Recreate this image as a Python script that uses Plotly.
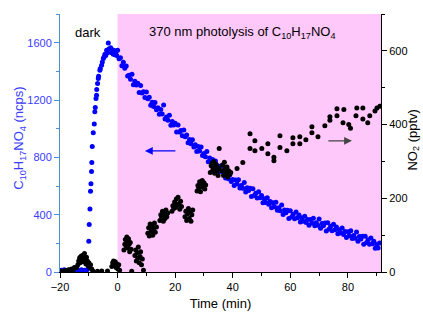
import plotly.graph_objects as go

# ---------------- data ----------------
# C10H17NO4 signal (ncps) vs time (min)
blue_t = [
    -20, -19.5, -19, -18.5, -18, -17.5, -17, -16.5, -16, -15.5, -15, -14.5, -14, -13.5, -13, -12.5, -12, -11.5, -11, -10.5,
    -10.0, -9.85, -9.6, -9.4, -9.25, -9.05, -8.95, -8.8, -8.45, -8.1, -7.9, -7.75, -7.5, -7.3, -7.25, -6.95, -6.7, -6.6,
    -6.15, -6.0, -5.55, -5.3, -4.95, -4.7, -4.4, -4.1, -3.8, -3.5, -3.22, -3.0, -2.7, -2.4, -2.1, -1.8, -1.5, -1.2, -0.9, -0.6, -0.3,
    0, 0.5, 1, 1.5, 2, 2.5, 3, 3.5, 4, 4.5, 5, 5.5, 6, 6.5, 7, 7.5, 8, 8.5, 9, 9.5,
    10, 10.5, 11, 11.5, 12, 12.5, 13, 13.5, 14, 14.5, 15, 15.5, 16, 16.5, 17, 17.5, 18, 18.5, 19, 19.5,
    20, 20.5, 21, 21.5, 22, 22.5, 23, 23.5, 24, 24.5, 25, 25.5, 26, 26.5, 27, 27.5, 28, 28.5, 29, 29.5,
    30, 30.5, 31, 31.5, 32, 32.5, 33, 33.5, 34, 34.5, 35, 35.5, 36, 36.5, 37, 37.5, 38, 38.5, 39, 39.5,
    40, 40.5, 41, 41.5, 42, 42.5, 43, 43.5, 44, 44.5, 45, 45.5, 46, 46.5, 47, 47.5, 48, 48.5, 49, 49.5,
    50, 50.5, 51, 51.5, 52, 52.5, 53, 53.5, 54, 54.5, 55, 55.5, 56, 56.5, 57, 57.5, 58, 58.5, 59, 59.5,
    60, 60.5, 61, 61.5, 62, 62.5, 63, 63.5, 64, 64.5, 65, 65.5, 66, 66.5, 67, 67.5, 68, 68.5, 69, 69.5,
    70, 70.5, 71, 71.5, 72, 72.5, 73, 73.5, 74, 74.5, 75, 75.5, 76, 76.5, 77, 77.5, 78, 78.5, 79, 79.5,
    80, 80.5, 81, 81.5, 82, 82.5, 83, 83.5, 84, 84.5, 85, 85.5, 86, 86.5, 87, 87.5, 88, 88.5, 89, 89.5,
    90, 90.5, 91,
]
blue_v = [
    8, 12, 6, 15, 10, 5, 13, 9, 16, 7, 11, 14, 6, 12, 9, 15, 8, 13, 10, 18,
    215, 331, 440, 563, 616, 701, 764, 875, 972, 1033, 1118, 1148, 1211, 1234, 1273, 1315, 1350, 1365,
    1408, 1420, 1442, 1465, 1489, 1500, 1520, 1510, 1547, 1530, 1597, 1555, 1540, 1565, 1530, 1550, 1520, 1545, 1515, 1535, 1510,
    1547, 1488, 1494, 1439, 1464, 1422, 1438, 1368, 1372, 1345, 1379, 1306, 1330, 1305, 1316, 1252, 1301, 1248, 1258, 1217,
    1255, 1208, 1219, 1163, 1184, 1154, 1182, 1132, 1146, 1100, 1134, 1102, 1165, 1068, 1082, 1058, 1094, 1024, 1050, 1026,
    1038, 976, 1026, 976, 988, 950, 990, 944, 956, 902, 924, 894, 922, 872, 887, 841, 876, 845, 872, 812,
    827, 804, 841, 769, 795, 772, 785, 723, 774, 725, 738, 701, 742, 697, 710, 656, 679, 650, 679, 631,
    646, 604, 642, 614, 643, 586, 604, 584, 624, 558, 588, 568, 584, 526, 580, 534, 550, 516, 560, 518,
    534, 484, 511, 485, 518, 472, 491, 449, 484, 456, 486, 430, 448, 428, 468, 402, 432, 413, 430, 373,
    428, 384, 403, 371, 418, 378, 397, 349, 378, 354, 389, 345, 366, 327, 367, 342, 375, 322, 343, 326,
    369, 306, 339, 322, 341, 286, 343, 300, 319, 288, 334, 295, 314, 267, 295, 272, 307, 262, 282, 241,
    280, 254, 287, 233, 254, 236, 279, 215, 248, 230, 249, 193, 250, 206, 225, 193, 238, 197, 214, 165,
    192, 168, 202,
]

# NO2 (pptv) vs time (min)
no2_t = [
    -20, -19.5, -19, -18.5, -18, -17.5, -17, -16.5, -16, -15.5, -15,
    -14.2, -13.8, -13.5, -13.2, -13.0, -12.8, -12.5, -12.3, -12.0, -11.8, -11.5, -11.2, -11.0, -10.8, -10.5, -10.3, -10.0, -9.7, -9.4, -9.0, -8.6,
    -7.0, -5.5, -3.5,
    -2.0, -1.7, -1.4, -1.1, -0.8, -0.5, -0.2, 0.1, 0.4, 0.7,
    2.2, 2.5, 2.7, 3.0, 3.2, 3.4, 3.6, 3.8, 4.0, 4.2, 4.4, 4.7, 4.9,
    6.0, 6.3, 6.5, 6.8, 7.0, 7.2, 7.5, 7.8, 8.0, 8.3, 8.6, 9.0,
    10.5, 10.8, 11.0, 11.3, 11.6, 11.9, 12.2, 12.5, 12.8, 13.1, 13.5,
    14.7, 15.0, 15.3, 15.6, 15.9, 16.2, 16.5, 16.8, 17.1, 17.4,
    18.9, 19.2, 19.5, 19.8, 20.1, 20.4, 20.7, 21.0, 21.3, 21.6, 21.9, 22.2,
    23.4, 23.7, 24.0, 24.3, 24.6, 24.9, 25.2, 25.5, 25.8, 26.1,
    27.6, 27.9, 28.2, 28.5, 28.8, 29.1, 29.4, 29.7, 30.0, 30.3, 30.6,
    32.2, 32.5, 32.8, 33.1, 33.4, 33.7, 34.0, 34.3, 34.6, 34.9, 35.2, 35.3,
    36.2, 36.5, 36.8, 37.1, 37.4, 37.7, 38.0, 38.3, 38.6, 38.9, 39.3,
    41.5, 43.5,
    46.0, 46.0, 47.7, 47.7, 50.1, 52.2, 52.2, 54.3, 54.3, 56.4, 56.4, 58.8, 60.9, 60.9, 63.3, 63.3,
    65.4, 67.5, 67.5, 69.6, 72.0, 73.75, 73.75, 76.2, 76.2, 78.3, 78.6, 80.3, 80.9, 82.8, 83.1,
    85.2, 85.2, 86.9, 87.6, 89.4, 90.1, 91.1,
]
no2_v = [
    2, 0, 3, 1, 4, 2, 6, 3, 8, 5, 12,
    12, 20, 30, 38, 25, 42, 33, 45, 28, 38, 50, 35, 22, 40, 30, 18, 25, 12, 20, 8, 3,
    2, 3, 3,
    15, 25, 30, 18, 28, 12, 22, 8, 20, 5,
    60, 75, 88, 70, 95, 82, 65, 90, 75, 55, 80, 62, 2,
    45, 60, 30, 52, 38, 68, 25, 42, 55, 20, 35, 5,
    105, 120, 98, 130, 110, 125, 100, 118, 133, 108, 122,
    140, 155, 148, 165, 138, 158, 145, 168, 150, 160,
    165, 180, 172, 190, 175, 198, 182, 203, 185, 170, 192, 178,
    150, 165, 140, 158, 172, 145, 162, 138, 155, 168,
    220, 235, 228, 245, 218, 238, 248, 230, 242, 225, 236,
    270, 288, 295, 278, 300, 268, 285, 292, 275, 262, 282, 335,
    275, 290, 262, 298, 280, 268, 285, 258, 275, 265, 270,
    281, 297,
    375, 335, 356, 329, 335, 348, 321, 311, 302, 370, 338, 329, 364, 348, 367, 348,
    359, 394, 378, 367, 397, 421, 412, 443, 424, 405, 441, 400, 390, 424, 445,
    445, 415, 405, 424, 437, 445, 450,
]

x_range = [-20, 91.5]
y_left_range = [0, 1800]
y_right_range = [0, 700]
photolysis_start = 0

# ---------------- figure ----------------
FONT = "Liberation Sans, Arial, sans-serif"
BLUE = "#0000ff"
LBLUE = "#3a3aff"
AXBLUE = "#4a90d0"

fig = go.Figure()
fig.add_trace(go.Scatter(
    x=blue_t, y=blue_v, mode="markers",
    marker=dict(color=BLUE, size=5, line=dict(width=0)),
    yaxis="y", showlegend=False,
))
fig.add_trace(go.Scatter(
    x=no2_t, y=no2_v, mode="markers",
    marker=dict(color="#000000", size=5, line=dict(width=0)),
    yaxis="y2", showlegend=False,
))

fig.add_shape(type="rect", xref="x", yref="paper",
              x0=photolysis_start, x1=x_range[1], y0=0, y1=1,
              fillcolor="#ffc8fa", line=dict(width=0), layer="below")

fig.update_layout(
    width=423, height=313,
    margin=dict(l=60, r=42, t=14, b=41),
    paper_bgcolor="white", plot_bgcolor="white",
    font=dict(family=FONT, size=11, color="#000"),
    xaxis=dict(
        range=x_range, dtick=20, tick0=0, automargin=False,
        ticks="outside", ticklen=5, tickwidth=1, tickcolor="#000",
        minor=dict(dtick=10, ticks="outside", ticklen=3, tickcolor="#000"),
        showline=True, linecolor="#000", linewidth=1,
        showgrid=False, zeroline=False,
        title=dict(text="Time (min)", font=dict(size=13), standoff=6),
        tickfont=dict(size=11),
    ),
    xaxis2=dict(
        range=x_range, overlaying="x", side="top", anchor="y", automargin=False,
        dtick=20, tick0=0, ticks="inside", ticklen=5, tickcolor="#000",
        minor=dict(dtick=10, ticks="inside", ticklen=3, tickcolor="#000"),
        showline=True, linecolor="#000", linewidth=1,
        showticklabels=False, showgrid=False, zeroline=False,
    ),
    yaxis=dict(
        range=y_left_range, dtick=400, automargin=False,
        ticks="outside", ticklen=5, tickcolor=AXBLUE,
        minor=dict(dtick=200, ticks="outside", ticklen=3, tickcolor=AXBLUE),
        showline=True, linecolor=AXBLUE, linewidth=1,
        showgrid=False, zeroline=False,
        tickfont=dict(size=11, color=LBLUE),
    ),
    yaxis2=dict(
        range=y_right_range, dtick=200, overlaying="y", side="right", anchor="x", automargin=False,
        ticks="outside", ticklen=5, tickcolor="#000",
        minor=dict(dtick=100, ticks="outside", ticklen=3, tickcolor="#000"),
        showline=True, linecolor="#000", linewidth=1,
        showgrid=False, zeroline=False,
        tickfont=dict(size=11),
    ),
)

# axis titles for the two y axes
fig.add_annotation(x=-0.125, y=0.52, xref="paper", yref="paper",
                   text="C<sub>10</sub>H<sub>17</sub>NO<sub>4</sub> (ncps)",
                   textangle=-90, showarrow=False, xanchor="center", yanchor="middle",
                   font=dict(size=13, family=FONT, color=LBLUE))
fig.add_annotation(x=1.10, y=0.51, xref="paper", yref="paper",
                   text="NO<sub>2</sub> (pptv)",
                   textangle=-90, showarrow=False, xanchor="center", yanchor="middle",
                   font=dict(size=13, family=FONT, color="#000"))

fig.add_annotation(x=-15.5, y=0.93, xref="x", yref="paper", text="dark",
                   showarrow=False, xanchor="left", yanchor="middle",
                   font=dict(size=13, family=FONT, color="#000"))
fig.add_annotation(x=10.2, y=0.93, xref="x", yref="paper",
                   text="370 nm photolysis of C<sub>10</sub>H<sub>17</sub>NO<sub>4</sub>",
                   showarrow=False, xanchor="left", yanchor="middle",
                   font=dict(size=13, family=FONT, color="#000"))

# direction arrows
fig.add_annotation(x=9.5, y=845, xref="x", yref="y", ax=20.6, ay=845, axref="x", ayref="y",
                   text="", showarrow=True, arrowhead=2, arrowsize=1.3, arrowwidth=1.2,
                   arrowcolor=BLUE)
fig.add_annotation(x=81.4, y=356, xref="x", yref="y2", ax=72.7, ay=356, axref="x", ayref="y2",
                   text="", showarrow=True, arrowhead=2, arrowsize=1.3, arrowwidth=1.2,
                   arrowcolor="#444444")

fig.write_html("out.html",
               config={"displayModeBar": False},
               post_script="document.body.style.margin='0';document.body.style.padding='0';")
